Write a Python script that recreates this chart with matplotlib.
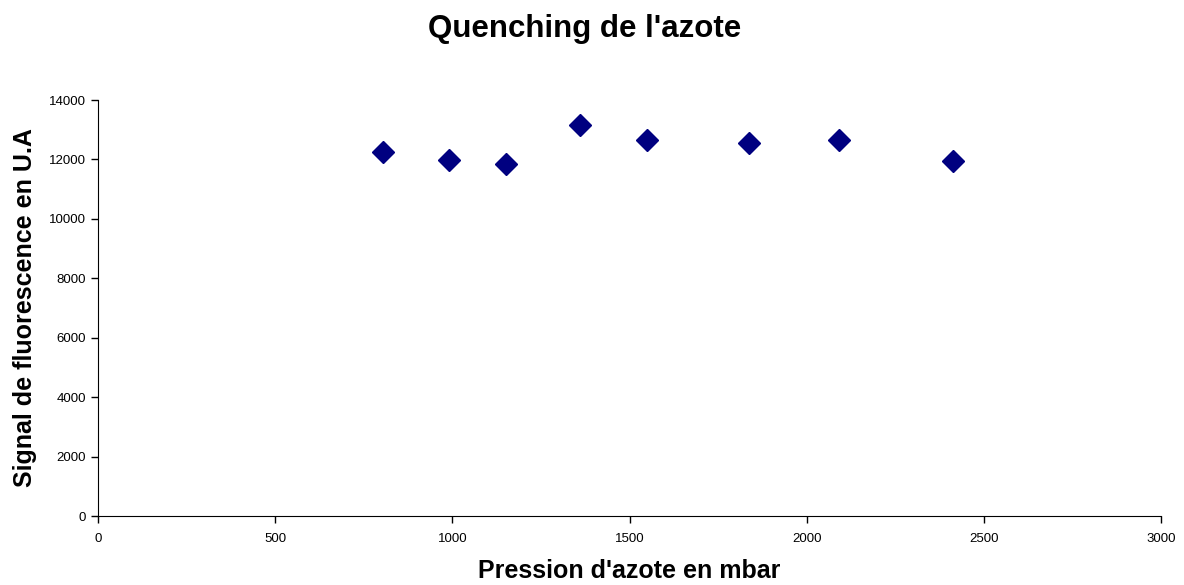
import matplotlib.pyplot as plt

plt.rcParams['font.family'] = ['Liberation Sans', 'DejaVu Sans']

pression = [804, 990, 1151, 1360, 1550, 1838, 2092, 2413]
signal = [12260, 11970, 11860, 13160, 12650, 12540, 12650, 11960]

fig = plt.figure(figsize=(11.84, 5.85), dpi=100)
ax = fig.add_axes([0.0828, 0.1179, 0.8978, 0.7111])

ax.plot(pression, signal, linestyle='none', marker='D', markersize=11,
        color='#000080', markeredgecolor='#000080')

ax.set_xlim(0, 3000)
ax.set_ylim(0, 14000)
ax.set_xticks(range(0, 3001, 500))
ax.set_yticks(range(0, 14001, 2000))
ax.tick_params(direction='out', length=5, labelsize=9.5, width=1)
ax.tick_params(axis='x', pad=7)
for s in ['top', 'right']:
    ax.spines[s].set_visible(False)

ax.set_xlabel("Pression d'azote en mbar", fontsize=18, fontweight='bold')
ax.xaxis.set_label_coords(0.5, -0.103)
ax.set_ylabel("Signal de fluorescence en U.A", fontsize=18, fontweight='bold')
ax.yaxis.set_label_coords(-0.057, 0.5)
fig.text(0.494, 1 - 37 / 585, "Quenching de l'azote", fontsize=22.5, fontweight='bold',
         ha='center', va='baseline')

fig.savefig('out.png', dpi=100)
